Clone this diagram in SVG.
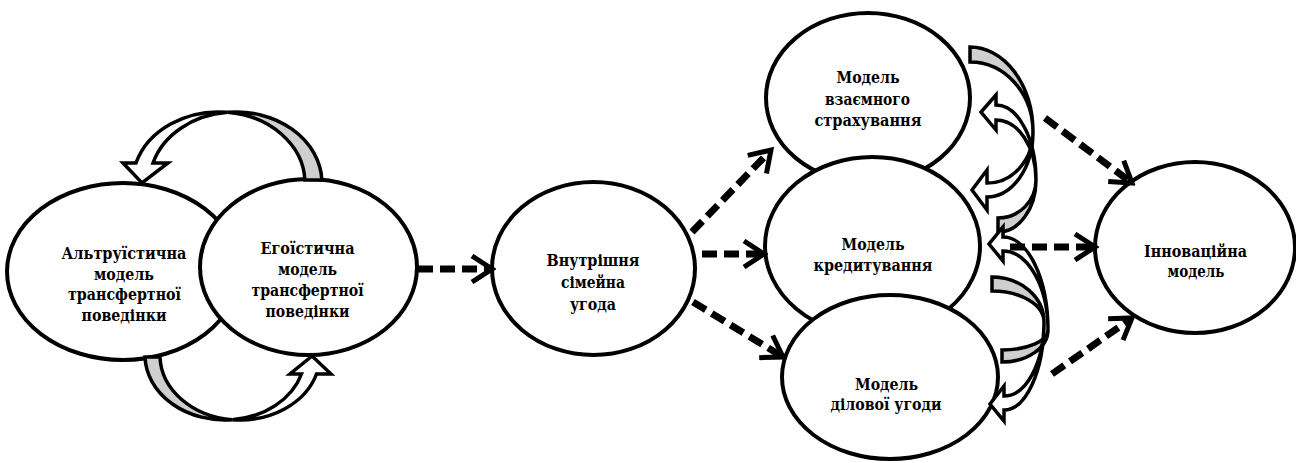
<svg xmlns="http://www.w3.org/2000/svg" width="1296" height="463" viewBox="0 0 1296 463">
<style>
.node ellipse{fill:#fff;stroke:#000;stroke-width:4}
.lbl{font-family:"DejaVu Serif",serif;font-stretch:condensed;font-weight:bold;font-size:17.5px;text-anchor:middle;fill:#000}
.dash{fill:none;stroke:#000;stroke-width:7;stroke-dasharray:15 7;marker-end:url(#ah)}
.back{fill:#cfcfcf;stroke:#000;stroke-width:3.5;stroke-linejoin:miter}
.front{fill:#fff;stroke:#000;stroke-width:3.5;stroke-linejoin:miter}
</style>
<defs>
<marker id="ah" viewBox="0 0 30 30" markerWidth="30" markerHeight="30" markerUnits="userSpaceOnUse" refX="22" refY="15" orient="auto">
<path d="M6,2 L26,15 L6,28" fill="none" stroke="#000" stroke-width="5" stroke-dasharray="none"/>
</marker>
</defs>
<rect width="1296" height="463" fill="#fff"/>
<g id="altruistic" class="node">
<ellipse cx="123" cy="271.5" rx="116" ry="88.5"/>
<text class="lbl" x="124" y="259" textLength="125" lengthAdjust="spacingAndGlyphs">Альтруїстична</text>
<text class="lbl" x="124" y="280" textLength="60" lengthAdjust="spacingAndGlyphs">модель</text>
<text class="lbl" x="124.5" y="300" textLength="113" lengthAdjust="spacingAndGlyphs">трансфертної</text>
<text class="lbl" x="124" y="321" textLength="85" lengthAdjust="spacingAndGlyphs">поведінки</text>
</g>
<g id="egoistic" class="node">
<ellipse cx="308.5" cy="267" rx="108.5" ry="88"/>
<text class="lbl" x="307.5" y="254" textLength="94" lengthAdjust="spacingAndGlyphs">Егоїстична</text>
<text class="lbl" x="307.5" y="275" textLength="59" lengthAdjust="spacingAndGlyphs">модель</text>
<text class="lbl" x="307.5" y="296" textLength="112" lengthAdjust="spacingAndGlyphs">трансфертної</text>
<text class="lbl" x="307.5" y="317" textLength="84" lengthAdjust="spacingAndGlyphs">поведінки</text>
</g>
<g id="internal" class="node">
<ellipse cx="593.5" cy="268.5" rx="101.5" ry="86.5"/>
<text class="lbl" x="593" y="266" textLength="93" lengthAdjust="spacingAndGlyphs">Внутрішня</text>
<text class="lbl" x="593" y="288" textLength="64" lengthAdjust="spacingAndGlyphs">сімейна</text>
<text class="lbl" x="593" y="310" textLength="46" lengthAdjust="spacingAndGlyphs">угода</text>
</g>
<g id="insurance" class="node">
<ellipse cx="868" cy="98" rx="102" ry="85"/>
<text class="lbl" x="868" y="83" textLength="63" lengthAdjust="spacingAndGlyphs">Модель</text>
<text class="lbl" x="867.5" y="105" textLength="85" lengthAdjust="spacingAndGlyphs">взаємного</text>
<text class="lbl" x="868" y="126" textLength="107" lengthAdjust="spacingAndGlyphs">страхування</text>
</g>
<g id="credit" class="node">
<ellipse cx="872.5" cy="246" rx="107.5" ry="89"/>
<text class="lbl" x="873" y="250" textLength="63" lengthAdjust="spacingAndGlyphs">Модель</text>
<text class="lbl" x="873" y="271" textLength="119" lengthAdjust="spacingAndGlyphs">кредитування</text>
</g>
<g id="business" class="node">
<ellipse cx="890" cy="377" rx="108" ry="82"/>
<text class="lbl" x="886.5" y="390" textLength="63" lengthAdjust="spacingAndGlyphs">Модель</text>
<text class="lbl" x="886" y="410" textLength="111" lengthAdjust="spacingAndGlyphs">ділової угоди</text>
</g>
<g id="innovative" class="node">
<ellipse cx="1195" cy="247.5" rx="100" ry="85.5"/>
<text class="lbl" x="1195.5" y="257" textLength="103" lengthAdjust="spacingAndGlyphs">Інноваційна</text>
<text class="lbl" x="1196" y="277" textLength="57" lengthAdjust="spacingAndGlyphs">модель</text>
</g>
<g id="connectors">
<path class="back" d="M304.9,180 L321.9,180 A86,71 0 0 0 227.5,112.3 A86,71 0 0 1 304.9,180 Z"/>
<path class="front" d="M136,163 L123,163 L142,183 L168,163 L153,163 A86,71 0 0 1 227.5,112.3 A86,71 0 0 0 136,163 Z"/>
<path class="back" d="M145,357 L160,357 A80,65 0 0 0 232.5,419.7 A80,65 0 0 1 145,357 Z"/>
<path class="front" d="M301.5,374 L290,374 L312,356 L331,374 L316.5,374 A80,65 0 0 1 232.5,419.7 A80,65 0 0 0 301.5,374 Z"/>
<path class="back" d="M970,47 A63,85 0 0 1 1033,132 A63,70 0 0 0 970,62 Z"/>
<path class="front" d="M1033,132 A46,65 0 0 1 987,197 L987,210 L972,190 L987,170 L987,183 A46,51 0 0 0 1033,132 Z"/>
<path class="back" d="M998,232 A38,52 0 0 0 1036,180 A38,38 0 0 1 998,218 Z"/>
<path class="front" d="M1036,180 A40,75 0 0 0 996,105 L996,95 L981,112 L996,130 L996,120 A40,60 0 0 1 1036,180 Z"/>
<path class="front" d="M1048,330 A45,93 0 0 0 1003,237 L1003,227 L989,244 L1003,261 L1003,251 A45,79 0 0 1 1048,330 Z"/>
<path class="back" d="M1002,362 A46,32 0 0 0 1048,330 A46,20 0 0 1 1002,350 Z"/>
<path class="back" d="M992,277 A52,45 0 0 1 1044,322 A52,31 0 0 0 992,291 Z"/>
<path class="front" d="M1044,322 A40,88 0 0 1 1004,410 L1004,421 L990,404 L1004,386 L1004,396 A40,74 0 0 0 1044,322 Z"/>
<line class="dash" x1="418" y1="269" x2="488" y2="269"/>
<line class="dash" x1="702" y1="254" x2="760" y2="254"/>
<line class="dash" x1="692" y1="232" x2="768.2" y2="152.9"/>
<line class="dash" x1="693" y1="302" x2="779.6" y2="354.9"/>
<line class="dash" x1="1045" y1="118" x2="1128.8" y2="180.6"/>
<line class="dash" x1="1010" y1="247" x2="1091" y2="247"/>
<line class="dash" x1="1052" y1="374" x2="1128.7" y2="320.3"/>
</g>
</svg>
